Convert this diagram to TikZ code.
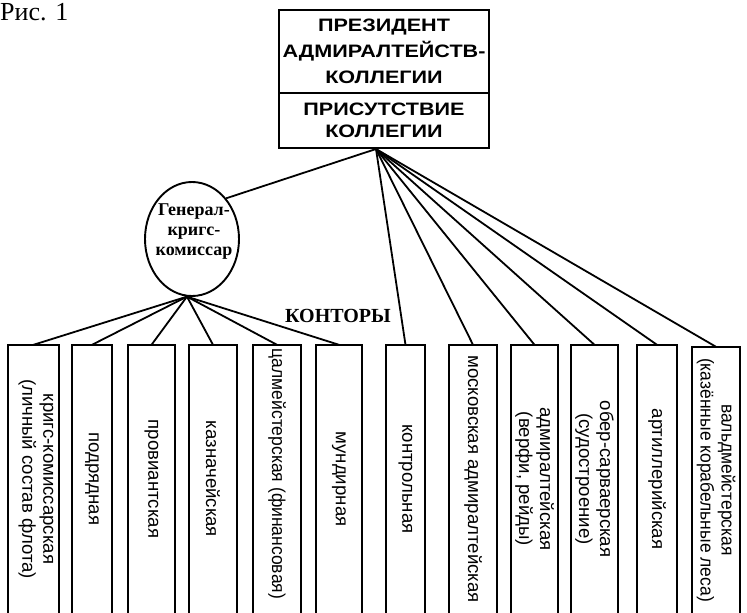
\documentclass[tikz,border=0pt]{standalone}
\usepackage{fontspec}
\setmainfont{Liberation Serif}
\setsansfont{Liberation Sans}
\newfontfamily\headfont[FakeStretch=1.2]{Liberation Sans}
\newfontfamily\narrowfont[FakeStretch=0.94]{Liberation Sans}
\usetikzlibrary{shapes.geometric}
\begin{document}
\begin{tikzpicture}[x=1pt,y=-1pt,
  wire/.style={line width=1.8pt},
  frame/.style={draw, line width=2.2pt},
  headbox/.style={frame, minimum width=210pt, inner sep=0pt, align=center,
    font=\headfont\bfseries\fontsize{18}{26}\selectfont},
  officebox/.style={minimum width=#1, minimum height=268pt, inner sep=0pt},
  officeedge/.style={line width=2.4pt, line join=miter},
  vtext/.style={rotate=-90, align=center, inner sep=0pt,
    font=\sffamily\fontsize{18.6}{21}\selectfont},
  vnarrow/.style={vtext, font=\narrowfont\fontsize{18.6}{21}\selectfont},
]
\useasboundingbox (0,0) rectangle (747,613);

% figure caption
\node[anchor=base west, inner sep=0pt, font=\fontsize{26}{28}\selectfont] (fig) at (0,20) {Рис. 1};

% head of the college
\node[headbox, minimum height=83pt] (pres) at (384,51.5) {ПРЕЗИДЕНТ\\АДМИРАЛТЕЙСТВ-\\КОЛЛЕГИИ};
\node[headbox, minimum height=55pt, font=\headfont\bfseries\fontsize{18}{22}\selectfont] (pris) at (384,120.5) {ПРИСУТСТВИЕ\\КОЛЛЕГИИ};
\coordinate (apex) at (376,149);

% general-krigs-commissar
\node[ellipse, draw, line width=1.9pt, minimum width=94pt, minimum height=114pt, inner sep=0pt] (gk) at (192,239) {};
\node[align=center, inner sep=0pt, font=\bfseries\fontsize{18}{20}\selectfont] (gkt) at (194,232) {Генерал-\\кригс-\\комиссар};

% heading over the offices
\node[inner sep=0pt, font=\bfseries\fontsize{20}{22}\selectfont] (kont) at (338,316) {КОНТОРЫ};

% offices (open at the bottom)
\node[officebox=51pt] (b1) at (33.5,479) {};
\node[officebox=40pt] (b2) at (92,479) {};
\node[officebox=47pt] (b3) at (151.5,479) {};
\node[officebox=48pt] (b4) at (213,479) {};
\node[officebox=48pt] (b5) at (277,479) {};
\node[officebox=46pt] (b6) at (339,479) {};
\node[officebox=39pt] (b7) at (405.5,479) {};
\node[officebox=48pt] (b8) at (473,479) {};
\node[officebox=47pt] (b9) at (534.5,479) {};
\node[officebox=47pt] (b10) at (594.5,479) {};
\node[officebox=40pt] (b11) at (657,479) {};
\node[officebox=48pt, minimum height=266pt] (b12) at (716,480) {};

\foreach \b in {b1,b2,b3,b4,b5,b6,b7,b8,b9,b10,b11,b12}
  \draw[officeedge] (\b.south west) |- (\b.north east) -- (\b.south east);

\node[vtext] (t1) at (36,479) {кригс-комиссарская\\(личный состав флота)};
\node[vtext] (t2) at (b2.center) {подрядная};
\node[vtext] (t3) at (b3.center) {провиантская};
\node[vtext] (t4) at (b4.center) {казначейская};
\node[vnarrow] (t5) at (277,474) {цалмейстерская (финансовая)};
\node[vtext] (t6) at (b6.center) {мундирная};
\node[vtext] (t7) at (b7.center) {контрольная};
\node[vtext] (t8) at (b8.center) {московская адмиралтейская};
\node[vtext] (t9) at (b9.center) {адмиралтейская\\(верфи, рейды)};
\node[vtext] (t10) at (b10.center) {обер-сарваерская\\(судостроение)};
\node[vtext] (t11) at (b11.center) {артиллерийская};
\node[vnarrow] (t12) at (b12.center) {вальдмейстерская\\(казённые корабельные леса)};

% connectors
\draw[wire] (apex) -- (gk.50);
\foreach \b in {b7,b8,b9,b10,b11,b12}
  \draw[wire] (apex) -- (\b.north);
\foreach \b in {b1,b2,b3,b4,b5,b6}
  \draw[wire] (gk.265) -- (\b.north);
\end{tikzpicture}
\end{document}
